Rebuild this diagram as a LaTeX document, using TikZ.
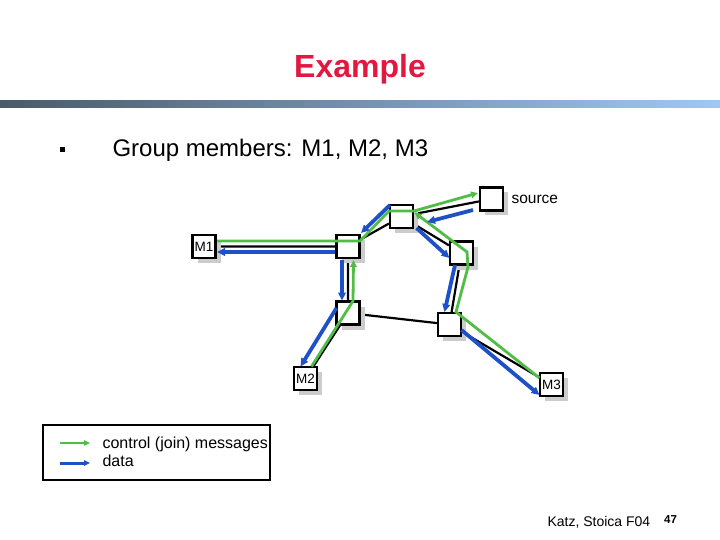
\documentclass[tikz,border=0pt]{standalone}
\usepackage{fontspec}
\setmainfont{Liberation Sans}
\usetikzlibrary{arrows.meta,calc,shadows,backgrounds}
\definecolor{ctrlgreen}{RGB}{80,190,70}
\definecolor{datablue}{RGB}{30,80,200}
\definecolor{titlered}{RGB}{225,25,65}
\definecolor{bardark}{RGB}{74,90,106}
\definecolor{barlight}{RGB}{160,200,245}
\begin{document}
\begin{tikzpicture}[x=1pt,y=-1pt,
            router/.style={draw, line width=2.2pt, fill=white, minimum size=23pt, inner sep=0pt,
                font=\fontsize{13.5}{14}\selectfont,
                drop shadow={shadow xshift=5pt, shadow yshift=-5pt, fill=black!20, opacity=1}},
            treelink/.style={line width=2.2pt},
            ctrlmsg/.style={ctrlgreen, line width=2.8pt, -{Triangle[length=7pt,width=6.5pt]}},
            datamsg/.style={datablue, line width=3.8pt, -{Triangle[length=8pt,width=7.5pt]}},
            lbl/.style={font=\fontsize{15.5}{16}\selectfont}
            ]
            \useasboundingbox (0,0) rectangle (720,540);

            \node[font=\fontsize{32}{34}\selectfont\bfseries, text=titlered] (title) at (360,69) {Example};
            \shade[left color=bardark, right color=barlight] (0,101) rectangle (720,108);
            \node[fill=black, minimum size=5pt, inner sep=0pt] (bullet) at (62.5,150) {};
            \node[anchor=west, font=\fontsize{24}{26}\selectfont] (members) at (109,150) {Group members: M1, M2, M3};

            % routers and members
            \node[router] (src) at (491.5,199) {};
            \node[router] (r1) at (401.5,216.5) {};
            \node[router] (r2) at (348,246.5) {};
            \node[router] (r3) at (461.5,253) {};
            \node[router] (r4) at (348,313) {};
            \node[router] (r5) at (449.5,324.5) {};
            \node[router] (m1) at (204,246.5) {M1};
            \node[router] (m2) at (305.5,378.5) {M2};
            \node[router] (m3) at (551.5,384.5) {M3};
            \node[lbl, anchor=west] (srclabel) at (508,199) {source};

            \begin{scope}[on background layer]
            \draw[treelink] (src)--(r1)--(r2)--(m1);
            \draw[treelink] (r1)--(r3)--(r5)--(m3);
            \draw[treelink] (r2)--(r4)--(m2);
            \draw[treelink] (r4)--(r5);
            \end{scope}

            % join messages
            \draw[ctrlmsg] ($(m1)+(13,-5.5)$) -- ($(r2)+(12,-5.5)$) -- ($(r1)+(-12.5,-5.5)$)
                -- ($(r1)+(12.5,-5.5)$) -- ($(src)+(-13.5,-6)$);
            \draw[ctrlmsg] ($(m2)+(6,-12)$) -- ($(r4)+(5,-12)$) -- ($(r2)+(5.5,13.5)$);
            \draw[ctrlmsg] ($(m3)+(-12,-6.5)$) -- ($(r5)+(6.5,-12.5)$) -- ($(r3)+(6.5,14)$)
                -- ($(r3)+(5.5,-1)$) -- ($(r1)+(13,-4)$);

            % data
            \draw[datamsg] ($(src)+(-18.5,11)$) -- ($(r1)+(25.5,5.5)$);
            \draw[datamsg] ($(r1)+(-11.5,-11.5)$) -- ($(r2)+(13,-13.5)$);
            \draw[datamsg] ($(r2)+(-13,5.5)$) -- ($(m1)+(13,5.5)$);
            \draw[datamsg] ($(r2)+(-6,13)$) -- ($(r4)+(-6,-12.5)$);
            \draw[datamsg] ($(r4)+(-11.5,-5)$) -- ($(m2)+(-5,-12)$);
            \draw[datamsg] ($(r1)+(15,11.5)$) -- ($(r3)+(-12,5)$);
            \draw[datamsg] ($(r3)+(-6.5,12)$) -- ($(r5)+(-5,-12.5)$);
            \draw[datamsg] ($(r5)+(12,5.5)$) -- ($(m3)+(-12,10.5)$);

            % legend
            \draw[line width=2pt] (43,425) rectangle (270,480);
            \coordinate (gs) at (60,443);
            \coordinate (ge) at (90,443);
            \coordinate (bs) at (60,463);
            \coordinate (be) at (90,463);
            \draw[ctrlmsg, line width=2.4pt, -{Triangle[length=6pt,width=5.5pt]}] (gs) -- (ge);
            \draw[datamsg, line width=3pt, -{Triangle[length=6pt,width=5.5pt]}] (bs) -- (be);
            \node[anchor=west, font=\fontsize{16}{17}\selectfont] (ctrltext) at (99,444) {control (join) messages};
            \node[anchor=west, font=\fontsize{16}{17}\selectfont] (datatext) at (99,461) {data};

            \node[anchor=west, font=\fontsize{14}{15}\selectfont] (credit) at (544,522) {Katz, Stoica F04};
            \node[font=\fontsize{11.5}{12}\selectfont\bfseries] (page) at (670.5,520) {47};
\end{tikzpicture}
\end{document}
